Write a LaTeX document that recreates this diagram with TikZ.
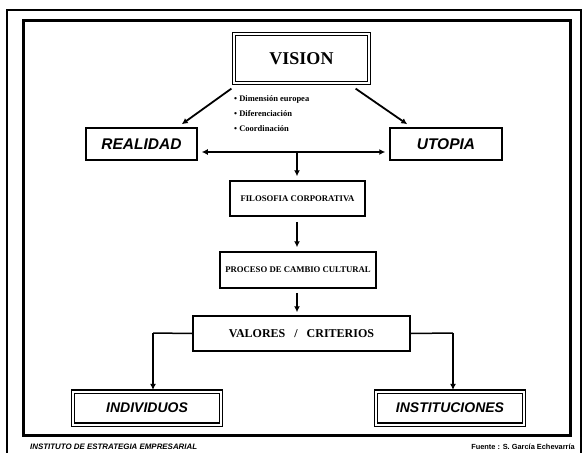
\documentclass[tikz,border=0pt]{standalone}
\usepackage{fontspec}
\setmainfont{Liberation Serif}
\newfontfamily\hvfont{Liberation Sans}
\usetikzlibrary{arrows.meta,calc}
\tikzset{
  box/.style={draw, line width=1.5pt, inner sep=0pt, font=\bfseries\fontsize{8.7}{10}\selectfont},
  ibox/.style={draw, line width=1.5pt, inner sep=0pt, font=\hvfont\bfseries\itshape\fontsize{15.5}{17}\selectfont},
  dbox/.style={draw, double, double distance=2pt, line width=1.2pt, inner sep=0pt},
  arr/.style={line width=1.8pt, -{Latex[length=6pt,width=6pt]}},
  darr/.style={line width=1.8pt, {Latex[length=6pt,width=6pt]}-{Latex[length=6pt,width=6pt]}},
  ln/.style={line width=1.5pt},
  foot/.style={font=\hvfont\bfseries\itshape\fontsize{7.9}{9}\selectfont, inner sep=0pt},
}
\begin{document}
\begin{tikzpicture}[x=1pt,y=-1pt]
\useasboundingbox (0,0) rectangle (582,453);
% frames
\draw[line width=2.5pt] (7,460) -- (7,10) -- (581,10) -- (581,460);
\draw[line width=3pt] (23,20) rectangle (570,435);
% nodes
\node[dbox, minimum width=135pt, minimum height=49pt, font=\bfseries\fontsize{18}{19}\selectfont] (vision) at (301.5,58.5) {VISION};
\node[ibox, minimum width=111pt, minimum height=32pt] (realidad) at (141.5,144) {REALIDAD};
\node[ibox, minimum width=112pt, minimum height=32pt] (utopia) at (446,144) {UTOPIA};
\node[box, minimum width=135pt, minimum height=35pt] (filo) at (297.5,198.5) {FILOSOFIA CORPORATIVA};
\node[box, minimum width=156pt, minimum height=36pt] (proceso) at (298,270) {PROCESO DE CAMBIO CULTURAL};
\node[box, minimum width=217pt, minimum height=35pt, font=\bfseries\fontsize{12}{13}\selectfont] (valores) at (301.5,333.5) {VALORES\hspace{9pt}/\hspace{9pt}CRITERIOS};
\node[dbox, minimum width=148pt, minimum height=33pt, font=\hvfont\bfseries\itshape\fontsize{14}{16}\selectfont] (indiv) at (147,408) {INDIVIDUOS};
\node[dbox, minimum width=148pt, minimum height=33pt, font=\hvfont\bfseries\itshape\fontsize{14}{16}\selectfont] (inst) at (450,408) {INSTITUCIONES};
% bullet list
\node[anchor=north west, inner sep=0pt, align=left, font=\bfseries\fontsize{8.5}{15}\selectfont] (bul) at (234,95)
  {\textbullet\ Dimensión europea\\ \textbullet\ Diferenciación\\ \textbullet\ Coordinación};
% coordinates
\coordinate (hl) at ($(realidad.east)+(4,8)$);
\coordinate (hr) at ($(utopia.west)+(-4,8)$);
\coordinate (hm) at (297,152);
\coordinate (vl) at (153,333);
\coordinate (vr) at (453,333);
% connectors
\draw[arr] ($(vision.south west)+(-2,5)$) -- ($(realidad.north east)+(-16,-3)$);
\draw[arr] ($(vision.south east)+(-14,5)$) -- ($(utopia.north west)+(18,-3)$);
\draw[darr] (hl) -- (hr);
\draw[arr] (hm) -- ($(filo.north)+(-0.5,-4)$);
\draw[arr] ($(filo.south)+(-0.5,5)$) -- ($(proceso.north)+(-1,-4)$);
\draw[arr] ($(proceso.south)+(-1,4)$) -- ($(valores.north)+(-4.5,-3)$);
\draw[ln] (valores.west) -- (vl);
\draw[arr] (vl) -- ($(indiv.north -| vl)+(0,-1)$);
\draw[ln] (valores.east) -- (vr);
\draw[arr] (vr) -- ($(inst.north -| vr)+(0,-1)$);
% footer
\node[foot, anchor=west] (f1) at (30,447) {INSTITUTO DE ESTRATEGIA EMPRESARIAL};
\node[foot, anchor=east, font=\hvfont\bfseries\fontsize{7.4}{8}\selectfont] (f2) at (575,447) {Fuente : S. García Echevarría};
\end{tikzpicture}
\end{document}
